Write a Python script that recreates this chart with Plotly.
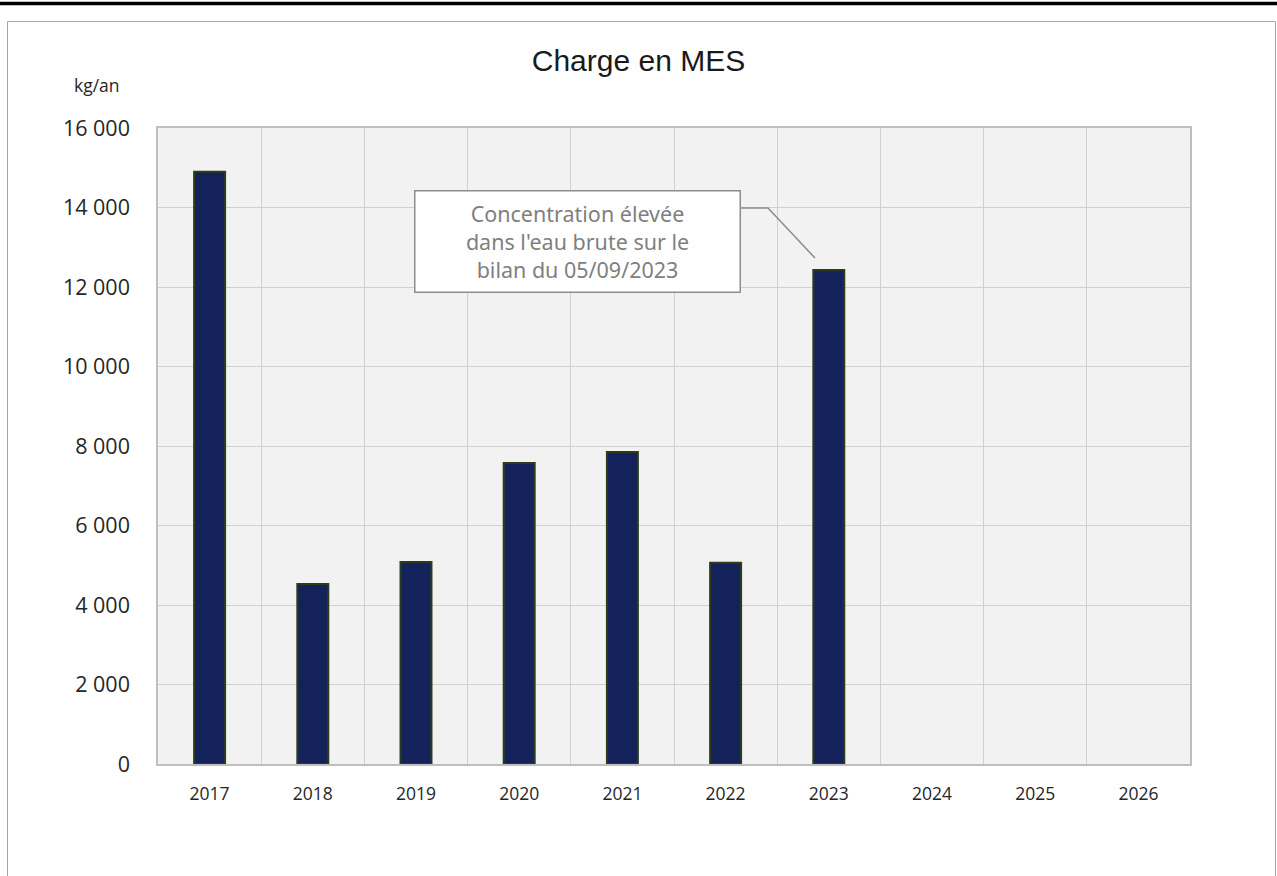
import plotly.graph_objects as go

# Annual suspended-solids load (kg/an)
years = ["2017", "2018", "2019", "2020", "2021", "2022", "2023", "2024", "2025", "2026"]
charge_mes = [14900, 4530, 5080, 7570, 7850, 5060, 12430, None, None, None]
y_ticks = [0, 2000, 4000, 6000, 8000, 10000, 12000, 14000, 16000]
y_tick_labels = ["0", "2 000", "4 000", "6 000", "8 000", "10 000", "12 000", "14 000", "16 000"]

W, H = 1277, 876
L, R, T, B = 158, 1190, 128, 764  # plot area in pixels


def px(x):
    return (x - L) / (R - L)


def py(y):
    return (B - y) / (B - T)


fig = go.Figure()
fig.add_trace(go.Bar(
    x=years, y=charge_mes, width=0.3,
    marker=dict(color="#13225a", line=dict(color="#2b3c18", width=2)),
    hoverinfo="x+y",
))

fig.update_layout(
    width=W, height=H,
    margin=dict(l=L, r=W - R, t=T, b=H - B),
    paper_bgcolor="white", plot_bgcolor="#f2f2f2",
    showlegend=False,
    font=dict(family="Open Sans, Noto Sans, sans-serif", color="#262626"),
    title=dict(text="Charge en MES", x=0.5, xanchor="center", y=1 - 60 / H, yanchor="middle",
               font=dict(family="Liberation Sans, Arial, sans-serif", size=30, color="#1a1a1a")),
)
fig.update_xaxes(
    type="category", tickson="boundaries", showgrid=True, gridcolor="#d0d0d0", gridwidth=1,
    showline=True, linecolor="#bfbfbf", linewidth=1.5, mirror=True, ticks="",
    ticklabelstandoff=13, tickfont=dict(size=17.5, color="#262626"), range=[-0.5, 9.5],
    fixedrange=True,
)
fig.update_yaxes(
    range=[0, 16000], tickvals=y_ticks, ticktext=y_tick_labels, showgrid=True,
    gridcolor="#d0d0d0", gridwidth=1, showline=True, linecolor="#bfbfbf", linewidth=1.5,
    mirror=True, ticks="", ticklabelstandoff=22, zeroline=False,
    tickfont=dict(size=21.5, color="#262626"), fixedrange=True,
)

# Unit label above the value axis
fig.add_annotation(text="kg/an", xref="paper", yref="paper", x=px(97), y=py(85),
                   xanchor="center", yanchor="middle", showarrow=False,
                   font=dict(size=17.5, color="#262626"))

# Callout box for 2023
fig.add_annotation(
    text="Concentration élevée<br>dans l'eau brute sur le<br>bilan du 05/09/2023",
    xref="paper", yref="paper", x=px(577), y=py(241), xanchor="center", yanchor="middle",
    showarrow=False, align="center", width=320, height=96,
    bgcolor="white", bordercolor="#8c8c8c", borderwidth=1.5, borderpad=2,
    font=dict(family="Noto Sans, Open Sans, sans-serif", size=21.5, color="#7f7f7f"),
)
# Leader line from the callout to the 2023 bar
fig.add_shape(type="path", xref="paper", yref="paper",
              path=f"M {px(740)} {py(208)} L {px(768)} {py(208)} L {px(815)} {py(258)}",
              line=dict(color="#8c8c8c", width=1.5))

# Chart frame and top rule
fig.add_shape(type="rect", xref="paper", yref="paper", x0=px(7.5), x1=px(1275.5),
              y0=py(900), y1=py(21.5), line=dict(color="#a6a6a6", width=1), layer="below")
fig.add_shape(type="line", xref="paper", yref="paper", x0=px(-5), x1=px(1285),
              y0=py(3.5), y1=py(3.5), line=dict(color="black", width=3.5))

fig.write_html("out.html")
